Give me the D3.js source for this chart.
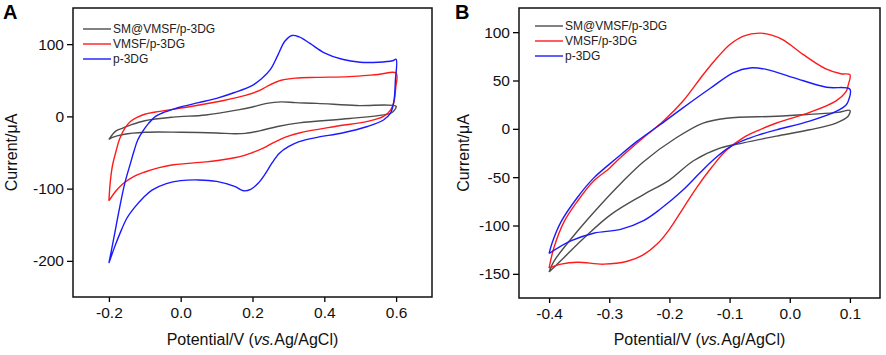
<!DOCTYPE html>
<html>
<head>
<meta charset="utf-8">
<script src="https://cdn.jsdelivr.net/npm/d3@7"></script>
<style>
  html, body { margin: 0; padding: 0; background: #fff; }
  svg { display: block; font-family: "Liberation Sans", Arial, sans-serif; }
</style>
</head>
<body>
<svg id="chart" width="886" height="355"></svg>
<script>
// ---------- DATA ----------
const seriesNames = ["SM@VMSF/p-3DG", "VMSF/p-3DG", "p-3DG"];
const seriesColors = ["#4d4d4d", "#ff1a1a", "#1a1aff"];

// Panel A : [potential (V), current (µA)] — closed CV loops
const aSM = [[-0.2,-32],[-0.19,-25],[-0.18,-20],[-0.16,-16],[-0.14,-12],[-0.1,-6],[-0.02,-1],[0.07,2],[0.16,9],[0.2,13],[0.24,18],[0.28,20],[0.32,19],[0.38,18],[0.49,15],[0.6,14],
  [0.596,9],[0.588,5],[0.565,2],[0.47,-3],[0.33,-9],[0.27,-14],[0.22,-20],[0.18,-23.5],[0.15,-24],[0.1,-23],[0.0,-22],[-0.1,-22],[-0.16,-25],[-0.19,-29],[-0.2,-32]];
const aVMSF = [[-0.2,-117],[-0.196,-90],[-0.19,-68],[-0.18,-48],[-0.17,-31],[-0.155,-16],[-0.14,-7],[-0.12,-1],[-0.1,3],[-0.07,6],[0.02,13],[0.12,22],[0.18,29],[0.22,36],[0.25,44],[0.28,50],[0.32,53],[0.38,54],[0.47,55],[0.55,58],[0.6,60],
  [0.599,40],[0.594,20],[0.585,9],[0.565,0],[0.52,-7],[0.43,-14],[0.33,-23],[0.29,-29],[0.26,-36],[0.23,-44],[0.2,-50],[0.17,-55],[0.13,-59],[0.07,-63],[-0.02,-67],[-0.06,-71],[-0.1,-77],[-0.13,-83],[-0.16,-93],[-0.18,-103],[-0.2,-117]];
const aP3DG = [[-0.2,-203],[-0.19,-178],[-0.18,-152],[-0.17,-126],[-0.156,-93],[-0.14,-65],[-0.13,-48],[-0.12,-33],[-0.105,-20],[-0.09,-10],[-0.07,0],[-0.05,5],[-0.02,10],[0.0,13],[0.05,19],[0.1,25],[0.15,33],[0.2,43],[0.225,52],[0.25,65],[0.27,84],[0.29,104],[0.31,112],[0.33,110],[0.36,101],[0.4,88],[0.45,79],[0.5,75],[0.55,75],[0.59,77],[0.6,79],
  [0.598,50],[0.595,25],[0.59,12],[0.584,4],[0.565,-5],[0.52,-14],[0.45,-23],[0.38,-29],[0.33,-35],[0.3,-42],[0.275,-51],[0.255,-64],[0.235,-80],[0.215,-93],[0.195,-101],[0.175,-103],[0.15,-97],[0.1,-90],[0.05,-88],[0.0,-89],[-0.04,-93],[-0.08,-102],[-0.105,-113],[-0.13,-127],[-0.15,-141],[-0.17,-163],[-0.185,-182],[-0.2,-203]];

// Panel B
const bSM = [[-0.4,-148],[-0.392,-137],[-0.353,-106],[-0.315,-79],[-0.28,-56],[-0.243,-34],[-0.188,-9],[-0.144,6],[-0.105,11],[-0.022,13],[0.033,15],[0.08,17],[0.1,19],
  [0.097,13],[0.077,6],[0.033,-1],[-0.022,-7.6],[-0.077,-14.5],[-0.116,-20],[-0.16,-33],[-0.2,-53],[-0.243,-68],[-0.298,-89],[-0.342,-113],[-0.375,-133],[-0.4,-148]];
const bVMSF = [[-0.4,-144],[-0.392,-123],[-0.375,-96],[-0.353,-75],[-0.326,-54],[-0.3,-41],[-0.287,-33],[-0.243,-9],[-0.21,8],[-0.177,29],[-0.144,56],[-0.12,74],[-0.1,87],[-0.077,96],[-0.05,99],[-0.03,97],[-0.011,92],[0.022,77],[0.06,62],[0.085,57],[0.1,56],
  [0.097,45],[0.094,39],[0.077,29],[0.033,17],[-0.022,6],[-0.05,-1],[-0.077,-9],[-0.105,-22],[-0.13,-40],[-0.155,-61],[-0.178,-83],[-0.2,-104],[-0.22,-119],[-0.245,-131],[-0.27,-137],[-0.309,-140],[-0.353,-138],[-0.38,-140],[-0.4,-144]];
const bP3DG = [[-0.4,-129],[-0.395,-118],[-0.38,-96],[-0.353,-71],[-0.326,-51],[-0.287,-30],[-0.254,-13],[-0.215,4.5],[-0.177,22],[-0.132,42],[-0.094,58],[-0.066,63],[-0.039,61.5],[0.006,53],[0.061,43],[0.1,41],
  [0.098,30],[0.094,25],[0.077,18],[0.033,8],[-0.022,-1],[-0.05,-6],[-0.077,-12],[-0.1,-19],[-0.125,-31],[-0.15,-46],[-0.177,-63],[-0.215,-83],[-0.243,-95],[-0.281,-104],[-0.326,-108],[-0.364,-116],[-0.4,-129]];

const aXTicks = [-0.2, 0.0, 0.2, 0.4, 0.6];
const aXTickLabels = ["-0.2", "0.0", "0.2", "0.4", "0.6"];
const aYTicks = [-200, -100, 0, 100];
const aYTickLabels = ["-200", "-100", "0", "100"];
const bXTicks = [-0.4, -0.3, -0.2, -0.1, 0.0, 0.1];
const bXTickLabels = ["-0.4", "-0.3", "-0.2", "-0.1", "0.0", "0.1"];
const bYTicks = [-150, -100, -50, 0, 50, 100];
const bYTickLabels = ["-150", "-100", "-50", "0", "50", "100"];

// ---------- DRAW ----------
const svg = d3.select("#chart");

function drawPanel(cfg) {
  const g = svg.append("g");
  const x = d3.scaleLinear().domain(cfg.xDomain).range([cfg.left, cfg.right]);
  const y = d3.scaleLinear().domain(cfg.yDomain).range([cfg.bottom, cfg.top]);

  const xAxis = d3.axisBottom(x).tickValues(cfg.xTicks)
    .tickFormat((d, i) => cfg.xLabels[i]).tickSize(5).tickPadding(5);
  const yAxis = d3.axisLeft(y).tickValues(cfg.yTicks)
    .tickFormat((d, i) => cfg.yLabels[i]).tickSize(6).tickPadding(3);

  const gx = g.append("g").attr("transform", `translate(0,${cfg.bottom})`).call(xAxis);
  const gy = g.append("g").attr("transform", `translate(${cfg.left},0)`).call(yAxis);
  [gx, gy].forEach(a => {
    a.select(".domain").remove();
    a.selectAll(".tick line").attr("stroke", "#000").attr("stroke-width", 1.3);
    a.selectAll(".tick text").attr("fill", "#111").style("font-size", "15.5px")
      .style("font-family", '"Liberation Sans", Arial, sans-serif');
  });

  const line = d3.line().x(d => x(d[0])).y(d => y(d[1]))
    .curve(d3.curveCatmullRom.alpha(0.5));

  cfg.series.forEach((s, i) => {
    g.append("path").datum(s).attr("d", line)
      .attr("fill", "none").attr("stroke", seriesColors[i])
      .attr("stroke-width", 1.4).attr("stroke-linejoin", "round");
  });

  // frame
  g.append("rect").attr("x", cfg.left).attr("y", cfg.top)
    .attr("width", cfg.right - cfg.left).attr("height", cfg.bottom - cfg.top)
    .attr("fill", "none").attr("stroke", "#111").attr("stroke-width", 1.5);

  // legend
  seriesNames.forEach((name, i) => {
    const ly = cfg.legendY + i * 15;
    g.append("line").attr("x1", cfg.legendX).attr("x2", cfg.legendX + 28)
      .attr("y1", ly).attr("y2", ly)
      .attr("stroke", seriesColors[i]).attr("stroke-width", 1.4);
    g.append("text").attr("x", cfg.legendX + 30).attr("y", ly)
      .attr("dy", "0.36em").style("font-size", "12px").attr("fill", "#222")
      .text(name);
  });

  // axis titles
  const xt = g.append("text").attr("x", (cfg.left + cfg.right) / 2).attr("y", 345)
    .attr("text-anchor", "middle").style("font-size", "16px").attr("fill", "#111");
  xt.append("tspan").text("Potential/V (");
  xt.append("tspan").style("font-style", "italic").text("vs.");
  xt.append("tspan").text("Ag/AgCl)");

  g.append("text")
    .attr("transform", `translate(${cfg.yTitleX},${(cfg.top + cfg.bottom) / 2}) rotate(-90)`)
    .attr("text-anchor", "middle").attr("dy", "0.36em")
    .style("font-size", "16px").attr("fill", "#111").text("Current/\u03BCA");

  g.append("text").attr("x", cfg.labelX).attr("y", 19)
    .style("font-size", "20px").style("font-weight", "bold").attr("fill", "#000")
    .text(cfg.label);
}

drawPanel({
  label: "A", labelX: 3,
  left: 73, right: 432, top: 8, bottom: 297,
  xDomain: [-0.3, 0.7], yDomain: [-250, 150],
  xTicks: aXTicks, xLabels: aXTickLabels, yTicks: aYTicks, yLabels: aYTickLabels,
  series: [aSM, aVMSF, aP3DG],
  legendX: 83, legendY: 29, yTitleX: 11
});

drawPanel({
  label: "B", labelX: 455,
  left: 519, right: 880, top: 8, bottom: 298,
  xDomain: [-0.45, 0.15], yDomain: [-175, 125],
  xTicks: bXTicks, xLabels: bXTickLabels, yTicks: bYTicks, yLabels: bYTickLabels,
  series: [bSM, bVMSF, bP3DG],
  legendX: 535, legendY: 26, yTitleX: 463
});
</script>
</body>
</html>
